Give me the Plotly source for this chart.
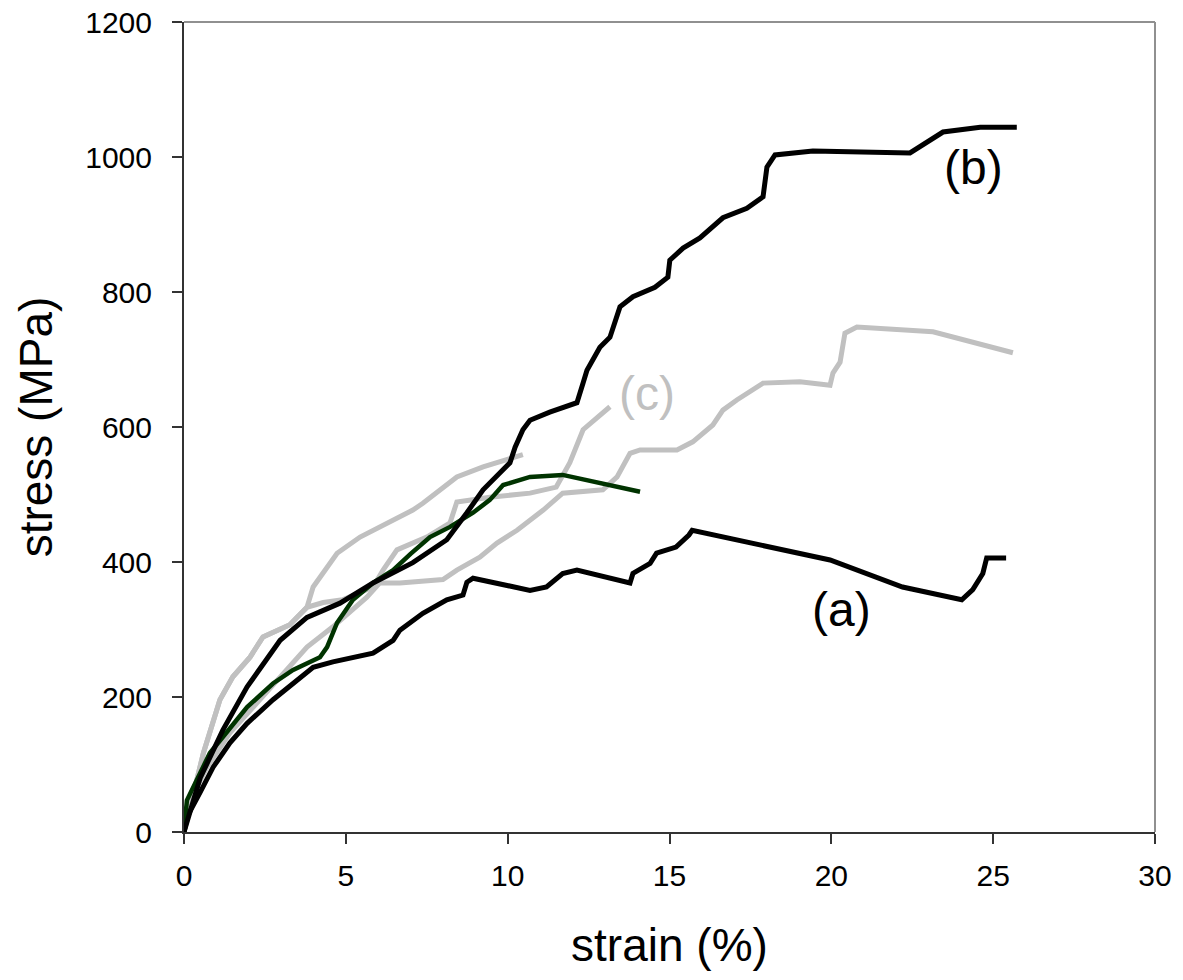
import plotly.graph_objects as go

# Curve (a) - black, lower
a_strain = [0, 0.09, 0.49, 0.9, 1.42, 1.95, 2.75, 3.37, 3.99, 4.6, 5.22, 5.84, 6.46, 6.67, 7.38, 8.12, 8.62, 8.74,
            8.93, 10.69, 11.2, 11.7, 12.14, 13.78, 13.87, 14.4, 14.6, 15.2, 15.6, 15.7, 19.96, 22.2, 24.03, 24.37,
            24.68, 24.8, 25.4]
a_stress = [0, 22, 58, 96, 132, 161, 196, 221, 244, 252, 258, 265, 284, 299, 324, 344, 351, 370,
            376, 358, 363, 383, 388, 369, 383, 398, 413, 422, 440, 447, 403, 363, 344, 359,
            383, 406, 406]

# Curve (b) - black, upper
b_strain = [0, 0.5, 1.2, 1.95, 2.97, 3.8, 4.82, 5.84, 7.07, 8.12, 8.74, 9.24, 10.07, 10.23, 10.47, 10.69, 11.3,
            12.14, 12.33, 12.45, 12.85, 13.16, 13.47, 13.87, 14.55, 14.95, 15.01, 15.42, 15.94, 16.65, 17.39,
            17.89, 18.01, 18.26, 19.43, 21.3, 22.43, 23.45, 24.6, 25.73]
b_stress = [0, 80, 151, 215, 284, 318, 339, 369, 399, 433, 473, 507, 547, 570, 596, 610, 622,
            636, 665, 684, 718, 733, 778, 793, 807, 822, 847, 865, 880, 910, 924,
            941, 985, 1003, 1009, 1006, 1006, 1037, 1044, 1044]

# Curve (c) - gray, labelled
c_strain = [0, 0.09, 0.6, 1.11, 1.51, 2.04, 2.44, 3.27, 3.8, 4.3, 4.9, 5.84, 6.15, 6.58, 7.5, 8.22, 8.43, 9.45,
            10.69, 11.5, 11.92, 12.33, 13.16]
c_stress = [0, 18, 117, 196, 230, 259, 289, 307, 333, 340, 344, 363, 388, 418, 437, 458, 489, 496,
            502, 511, 547, 596, 630]

# Gray curve ending near 10.5 %
g1_strain = [0, 0.09, 0.6, 1.11, 1.51, 2.04, 2.44, 3.27, 3.8, 3.99, 4.42, 4.73, 5.44, 6.27, 7.07, 7.38, 8.43,
             9.24, 10.07, 10.47]
g1_stress = [0, 18, 117, 196, 230, 259, 289, 307, 333, 363, 393, 413, 437, 458, 477, 487, 526,
             541, 554, 559]

# Long gray curve
g3_strain = [0, 0.19, 0.71, 1.42, 2.25, 2.97, 3.8, 4.6, 5.65, 6.05, 6.67, 8.0, 8.43, 9.14, 9.67, 10.29, 11.1,
             11.7, 12.94, 13.38, 13.78, 14.09, 15.23, 15.72, 16.34, 16.65, 17.08, 17.89, 19.03, 19.96, 20.05,
             20.27, 20.42, 20.79, 23.14, 25.61]
g3_stress = [0, 47, 96, 147, 191, 230, 274, 304, 348, 369, 369, 374, 388, 407, 428, 447, 477,
             502, 507, 526, 561, 566, 566, 578, 603, 625, 640, 665, 667, 662, 680,
             696, 739, 748, 741, 710]

# Dark green curve
gr_strain = [0, 0.09, 0.8, 1.2, 1.95, 2.75, 3.37, 4.2, 4.42, 4.73, 5.22, 5.84, 6.46, 7.0, 7.6, 8.22, 8.93, 9.45,
             9.86, 10.69, 11.7, 14.09]
gr_stress = [0, 47, 117, 141, 185, 220, 240, 259, 274, 310, 344, 369, 388, 412, 437, 452, 473, 492,
             514, 526, 529, 504]

x_ticks = [0, 5, 10, 15, 20, 25, 30]
y_ticks = [0, 200, 400, 600, 800, 1000, 1200]

GRAY = "#c0c0c0"
BLACK = "#000000"
GREEN = "#003300"

fig = go.Figure()
series = [
    (g3_strain, g3_stress, GRAY, 5),
    (g1_strain, g1_stress, GRAY, 5),
    (c_strain, c_stress, GRAY, 5),
    (a_strain, a_stress, BLACK, 5),
    (gr_strain, gr_stress, GREEN, 4.5),
    (b_strain, b_stress, BLACK, 5),
]
for xs, ys, col, w in series:
    fig.add_trace(go.Scatter(x=xs, y=ys, mode="lines",
                             line=dict(color=col, width=w, shape="linear"),
                             showlegend=False, hoverinfo="skip"))

font_family = "Liberation Sans, Arial, sans-serif"
fig.add_annotation(x=24.4, y=984, text="(b)", showarrow=False,
                   font=dict(family=font_family, size=48, color=BLACK))
fig.add_annotation(x=20.3, y=329, text="(a)", showarrow=False,
                   font=dict(family=font_family, size=48, color=BLACK))
fig.add_annotation(x=14.3, y=650, text="(c)", showarrow=False,
                   font=dict(family=font_family, size=48, color=GRAY))

# top/right frame in gray
fig.add_shape(type="line", xref="paper", yref="paper", x0=0, x1=1, y0=1, y1=1,
              line=dict(color="#909090", width=2))
fig.add_shape(type="line", xref="paper", yref="paper", x0=1, x1=1, y0=0, y1=1,
              line=dict(color="#909090", width=2))

fig.update_layout(
    width=1183, height=980,
    margin=dict(l=184, r=28, t=22, b=148, autoexpand=False),
    paper_bgcolor="white", plot_bgcolor="white",
    font=dict(family=font_family, color=BLACK),
    xaxis=dict(range=[0, 30], tickvals=x_ticks, ticks="outside", ticklen=10, tickwidth=1.5,
               tickcolor="#333333", showline=True, linecolor="#333333", linewidth=2,
               showgrid=False, zeroline=False, tickfont=dict(size=30), ticklabelstandoff=6,
               automargin=False,
               title=dict(text="strain (%)", font=dict(size=46), standoff=38)),
    yaxis=dict(range=[0, 1200], tickvals=y_ticks, ticks="outside", ticklen=10, tickwidth=1.5,
               tickcolor="#333333", showline=True, linecolor="#333333", linewidth=2,
               showgrid=False, zeroline=False, tickfont=dict(size=30), ticklabelstandoff=14,
               automargin=False,
               title=dict(text="stress (MPa)", font=dict(size=46), standoff=18)),
)

fig.write_html("out.html", config={"displayModeBar": False},
               post_script="document.body.style.margin='0';document.body.style.overflow='hidden';")
